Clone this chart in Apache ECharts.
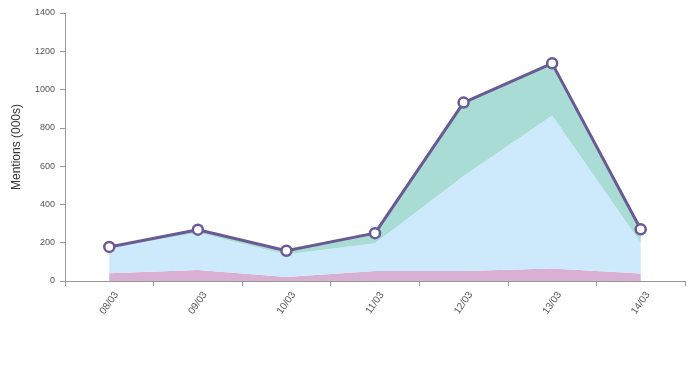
<!DOCTYPE html>
<html><head><meta charset="utf-8">
<script src="https://cdn.jsdelivr.net/npm/echarts@6/dist/echarts.min.js"></script>
<style>html,body{margin:0;padding:0;background:#fff}#c{width:700px;height:385px}</style>
</head><body><div id="c"></div>
<script>
const categories = ['08/03','09/03','10/03','11/03','12/03','13/03','14/03'];
const pinkValues = [40, 57, 21, 52, 52, 65, 39];
const blueValues = [134, 195, 118, 145, 496, 799, 161];
const tealValues = [4, 16, 19, 53, 384, 273, 70];
const yTicks = [0, 200, 400, 600, 800, 1000, 1200, 1400];

const chart = echarts.init(document.getElementById('c'));
chart.setOption({
  animation: false,
  grid: {left: 65, right: 15, top: 13, bottom: 104},
  xAxis: {
    type: 'category', data: categories, boundaryGap: true,
    axisLine: {lineStyle: {color: '#999', width: 1}},
    axisTick: {show: true, length: 5, lineStyle: {color: '#999'}},
    axisLabel: {rotate: 55, align: 'center', verticalAlign: 'middle', margin: 22,
      color: '#555', fontSize: 10, fontFamily: 'Liberation Sans'}
  },
  yAxis: {
    type: 'value', min: yTicks[0], max: yTicks[yTicks.length-1], interval: 200,
    name: 'Mentions (000s)', nameLocation: 'middle', nameGap: 42, nameRotate: 90,
    nameTextStyle: {color: '#333', fontSize: 12, fontFamily: 'Liberation Sans'},
    axisLine: {show: true, lineStyle: {color: '#999', width: 1}},
    axisTick: {show: true, length: 5, lineStyle: {color: '#999'}},
    splitLine: {show: false},
    axisLabel: {color: '#555', fontSize: 9, fontFamily: 'Liberation Sans', margin: 10,
      formatter: v => String(v)}
  },
  series: [
    {type: 'line', stack: 's', data: pinkValues, symbol: 'none', lineStyle: {width: 0},
      areaStyle: {color: '#d8b0d3', opacity: 1}},
    {type: 'line', stack: 's', data: blueValues, symbol: 'none', lineStyle: {width: 0},
      areaStyle: {color: '#cdeafc', opacity: 1}},
    {type: 'line', stack: 's', data: tealValues, symbol: 'circle', symbolSize: 10,
      itemStyle: {color: '#fff', borderColor: '#6a5a94', borderWidth: 2.5},
      lineStyle: {color: '#6a5a94', width: 3},
      areaStyle: {color: '#a8dcd5', opacity: 1}, z: 3}
  ]
});
</script></body></html>
